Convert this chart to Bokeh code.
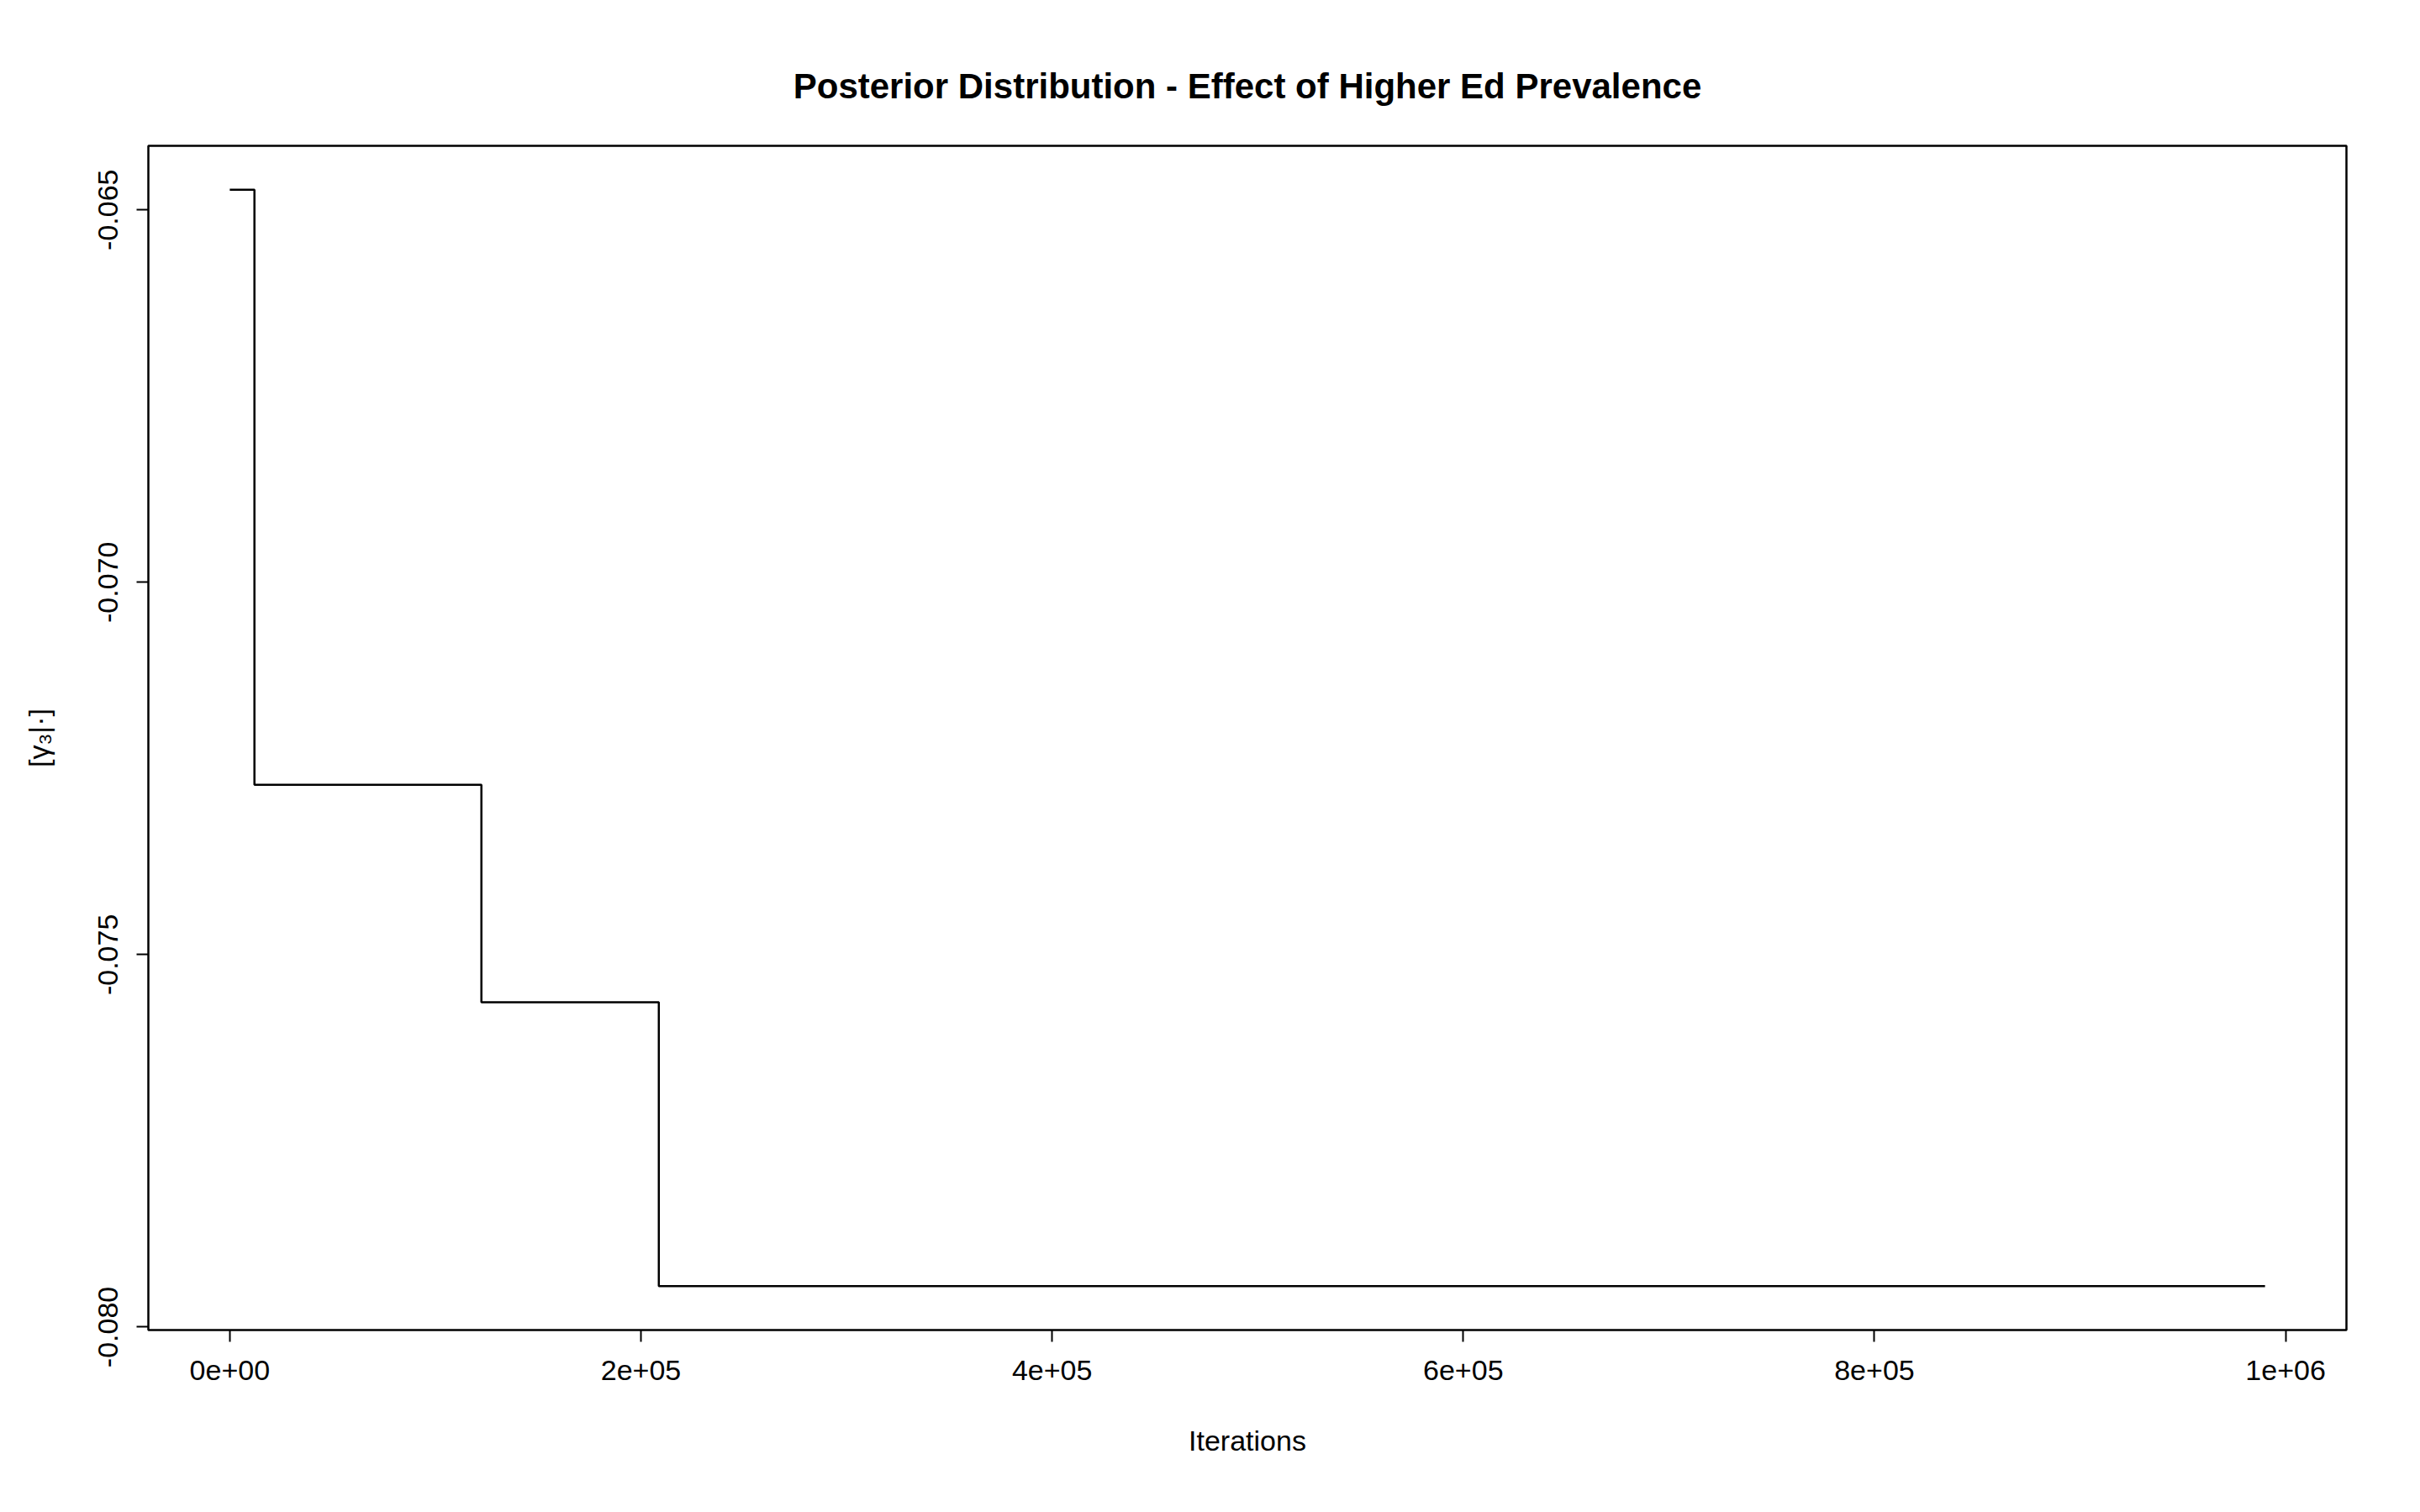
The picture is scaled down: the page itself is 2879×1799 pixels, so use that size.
from bokeh.embed import file_html
from bokeh.resources import INLINE
from bokeh.plotting import figure
from bokeh.models import Range1d, FixedTicker

# step trace of the sampled value
step_x = [0, 12000, 122400, 208700, 990000]
step_y = [-0.06473, -0.07272, -0.07564, -0.07945, -0.07945]

x_ticks = [0, 200000, 400000, 600000, 800000, 1000000]
x_labels = ["0e+00", "2e+05", "4e+05", "6e+05", "8e+05", "1e+06"]
y_ticks = [-0.080, -0.075, -0.070, -0.065]
y_labels = ["-0.080", "-0.075", "-0.070", "-0.065"]

font = "Liberation Sans"

p = figure(width=2863, height=1783, output_backend="svg", toolbar_location=None,
           x_range=Range1d(-39600, 1029600), y_range=Range1d(-0.08004, -0.06414),
           title="Posterior Distribution - Effect of Higher Ed Prevalence",
           min_border_left=176, min_border_right=72, min_border_top=173,
           min_border_bottom=201)

p.step(step_x, step_y, mode="after", line_color="black", line_width=2.5)

p.grid.visible = False
p.outline_line_color = "black"
p.outline_line_width = 2.5

p.title.align = "center"
p.title.text_font = font
p.title.text_font_size = "42px"
p.title.text_font_style = "bold"
p.title.text_color = "black"
p.title.offset = -30
p.title.standoff = 95

p.xaxis.ticker = FixedTicker(ticks=x_ticks)
p.xaxis.major_label_overrides = dict(zip(x_ticks, x_labels))
p.yaxis.ticker = FixedTicker(ticks=y_ticks)
p.yaxis.major_label_overrides = dict(zip(y_ticks, y_labels))
p.yaxis.major_label_orientation = "vertical"

for ax in (p.xaxis, p.yaxis):
    ax.axis_line_color = None
    ax.minor_tick_line_color = None
    ax.major_tick_out = 14
    ax.major_tick_in = 0
    ax.major_tick_line_width = 2
    ax.major_label_text_font = font
    ax.major_label_text_font_size = "34px"
    ax.major_label_text_color = "black"
    ax.axis_label_text_font = font
    ax.axis_label_text_font_size = "34px"
    ax.axis_label_text_font_style = "normal"
    ax.axis_label_text_color = "black"

p.xaxis.major_label_standoff = 22
p.yaxis.major_label_standoff = 22
p.xaxis.axis_label = "Iterations"
p.xaxis.axis_label_standoff = 50
p.yaxis.axis_label = "[γ₃|·]"
p.yaxis.axis_label_standoff = 50

open("out.html", "w").write(file_html(p, INLINE))
